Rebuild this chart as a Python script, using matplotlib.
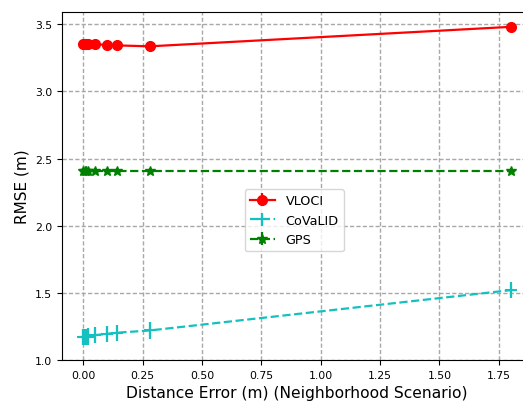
import numpy as np
import matplotlib
matplotlib.use('Agg')
import matplotlib.pyplot as plt

# distance error (m) and RMSE (m) per method
dist_err = [0.0, 0.005, 0.01, 0.02, 0.05, 0.1, 0.14, 0.28, 1.8]
rmse_vloci = [3.355, 3.355, 3.355, 3.352, 3.35, 3.346, 3.342, 3.335, 3.48]
rmse_covalid = [1.17, 1.17, 1.172, 1.175, 1.185, 1.195, 1.203, 1.22, 1.52]
rmse_gps = [2.41, 2.41, 2.41, 2.41, 2.41, 2.41, 2.41, 2.41, 2.41]

err_vloci = [0.02] * len(dist_err)
err_covalid = [0.06] * len(dist_err)
err_gps = [0.02] * len(dist_err)

fig = plt.figure(figsize=(5.23, 4.06), dpi=100)
ax = fig.add_axes([0.1185, 0.1108, 0.8987, 0.857])

ax.errorbar(dist_err, rmse_vloci, yerr=err_vloci, color='r', marker='o',
            markersize=7, linewidth=1.6, label='VLOCI')
ax.errorbar(dist_err, rmse_covalid, yerr=err_covalid, color='#14c0c0', marker='+',
            markersize=8, markeredgewidth=1.5, linestyle='--', linewidth=1.6,
            label='CoVaLID')
ax.errorbar(dist_err, rmse_gps, yerr=err_gps, color='g', marker='*',
            markersize=7, linestyle='--', linewidth=1.6, label='GPS')

ax.set_xlim(-0.09, 1.89)
ax.set_ylim(1.0, 3.59)
ax.set_xticks(np.arange(0, 1.76, 0.25))
ax.set_yticks(np.arange(1.0, 3.51, 0.5))
ax.tick_params(labelsize=7.8)
ax.grid(True, linestyle=(0, (3, 1.6)), color='#a8a8a8', linewidth=1.0)

ax.set_xlabel('Distance Error (m) (Neighborhood Scenario)', fontsize=11.2)
ax.set_ylabel('RMSE (m)', fontsize=11)

ax.legend(loc='center', bbox_to_anchor=(0.494, 0.402), fontsize=9.2)

fig.savefig('out.png', dpi=100)
